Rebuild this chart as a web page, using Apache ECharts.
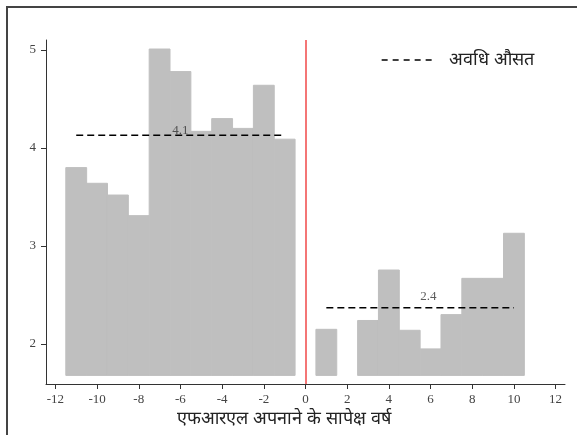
<!DOCTYPE html>
<html>
<head>
<meta charset="utf-8">
<script src="https://cdn.jsdelivr.net/npm/echarts@6/dist/echarts.min.js"></script>
<style>
  html, body { margin: 0; padding: 0; background: #fff; }
  #chart { width: 577px; height: 435px; }
</style>
</head>
<body>
<div id="chart"></div>
<script>
// ---- data ----
const preYears = [-11, -10, -9, -8, -7, -6, -5, -4, -3, -2, -1];
const preValues = [3.80, 3.64, 3.52, 3.31, 5.01, 4.78, 4.17, 4.30, 4.20, 4.64, 4.09];
const postYears = [1, 3, 4, 5, 6, 7, 8, 9, 10];
const postValues = [2.15, 2.24, 2.755, 2.14, 1.95, 2.30, 2.67, 2.67, 3.13];
const barBase = 1.68;
const preMeanSpan = [-11, -1];
const preMean = 4.13;
const postMeanSpan = [1, 10];
const postMean = 2.37;
const meanLabels = ['4.1', '2.4'];
const meanLabelX = [-6, 5.9];
const meanLabelY = [4.18, 2.48];
const xTicks = [-12, -10, -8, -6, -4, -2, 0, 2, 4, 6, 8, 10, 12];
const yTicks = [2, 3, 4, 5];
const xRange = [-12.45, 12.45];
const yRange = [1.592, 5.102];
const eventYear = 0;
const legendName = 'अवधि औसत';
const xTitle = 'एफआरएल अपनाने के सापेक्ष वर्ष';

// ---- chart ----
const chart = echarts.init(document.getElementById('chart'));
const barData = preYears.map((x, i) => [x, preValues[i]])
  .concat(postYears.map((x, i) => [x, postValues[i]]));

const serif = '"Liberation Serif", "DejaVu Serif", serif';
const dash = [7, 4];

const option = {
  animation: false,
  backgroundColor: '#fff',
  grid: { left: 46, right: 12, top: 40, bottom: 51, containLabel: false },
  legend: {
    data: [legendName],
    left: 381, top: 51, padding: 0,
    itemWidth: 54, itemHeight: 14,
    itemStyle: { opacity: 0 },
    lineStyle: { color: '#000', width: 1.3, type: [6, 5] },
    textStyle: { fontSize: 18, color: '#222', padding: [0, 0, 0, 8] },
    selectedMode: false
  },
  xAxis: {
    type: 'value', min: xRange[0], max: xRange[1],
    splitLine: { show: false },
    axisLine: { show: true, onZero: false, lineStyle: { color: '#333', width: 1 } },
    axisTick: { show: true, length: 5, customValues: xTicks, lineStyle: { color: '#333' } },
    axisLabel: { customValues: xTicks, margin: 9, fontFamily: serif, fontSize: 13, color: '#444' }
  },
  yAxis: {
    type: 'value', min: yRange[0], max: yRange[1],
    splitLine: { show: false },
    axisLine: { show: true, onZero: false, lineStyle: { color: '#333', width: 1 } },
    axisTick: { show: true, length: 5, customValues: yTicks, lineStyle: { color: '#333' } },
    axisLabel: { customValues: yTicks, margin: 10, fontFamily: serif, fontSize: 13, color: '#444' }
  },
  graphic: [
    { type: 'polyline', shape: { points: [[7, 435], [7, 7], [577, 7]] },
      style: { stroke: '#444', lineWidth: 2, fill: null }, silent: true, z: 100 },
    { type: 'text', x: 284, y: 419,
      style: { text: xTitle, fontSize: 18, fill: '#222', textAlign: 'center', textVerticalAlign: 'middle' } }
  ],
  series: [
    {
      type: 'custom',
      name: 'bars',
      data: barData,
      z: 1,
      renderItem: function (params, api) {
        const x = api.value(0), v = api.value(1);
        const p0 = api.coord([x - 0.5, v]);
        const p1 = api.coord([x + 0.5, barBase]);
        return {
          type: 'rect',
          shape: { x: p0[0], y: p0[1], width: p1[0] - p0[0], height: p1[1] - p0[1] },
          style: { fill: '#bfbfbf', stroke: '#bfbfbf', lineWidth: 1 }
        };
      },
      markLine: {
        silent: true, symbol: 'none',
        label: { show: false },
        lineStyle: { color: '#f04848', width: 1.5, type: 'solid' },
        data: [{ xAxis: eventYear }]
      }
    },
    {
      type: 'line', name: legendName, z: 5,
      data: [[preMeanSpan[0], preMean], [preMeanSpan[1], preMean]],
      symbol: 'none', color: '#000',
      lineStyle: { color: '#000', width: 1.3, type: dash }
    },
    {
      type: 'line', name: legendName, z: 5,
      data: [[postMeanSpan[0], postMean], [postMeanSpan[1], postMean]],
      symbol: 'none', color: '#000',
      lineStyle: { color: '#000', width: 1.3, type: dash }
    },
    {
      type: 'scatter', name: 'labels', z: 6,
      symbolSize: 0,
      data: meanLabels.map((t, i) => ({ value: [meanLabelX[i], meanLabelY[i]], name: t })),
      label: {
        show: true, position: 'inside',
        formatter: p => p.name,
        fontFamily: serif, fontSize: 13, color: '#333'
      }
    }
  ]
};
chart.setOption(option);
</script>
</body>
</html>
